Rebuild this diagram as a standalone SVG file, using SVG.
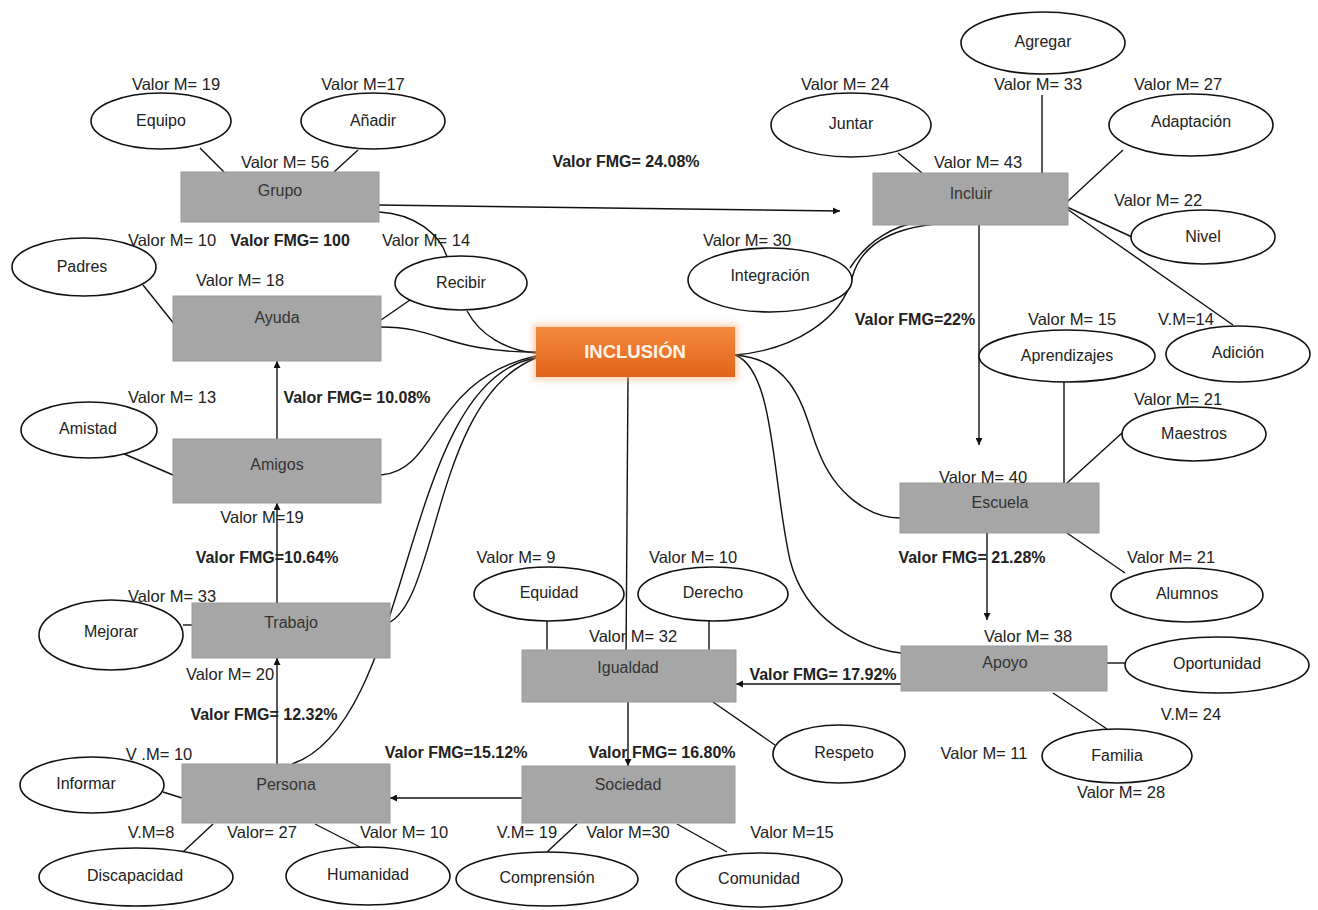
<svg xmlns="http://www.w3.org/2000/svg" width="1318" height="910" viewBox="0 0 1318 910">
<style>
text{font-family:"Liberation Sans",Arial,sans-serif;fill:#222;}
.l{font-size:16.5px;text-anchor:middle;}
.b{font-size:16px;font-weight:bold;text-anchor:middle;}
.n{font-size:16px;text-anchor:middle;fill:#333;}
.e{font-size:16px;text-anchor:middle;}
.box{fill:#a6a6a6;stroke:#9a9a9a;stroke-width:1;}
.ell{fill:#fff;stroke:#111;stroke-width:1.6;}
.c{fill:none;stroke:#111;stroke-width:1.4;}
.a{fill:none;stroke:#111;stroke-width:1.4;marker-end:url(#ah);}
</style>
<defs>
<marker id="ah" viewBox="0 0 10 10" refX="10" refY="5" markerWidth="7" markerHeight="7" markerUnits="userSpaceOnUse" orient="auto"><path d="M0,0 L10,5 L0,10 z" fill="#111"/></marker>
<linearGradient id="og" x1="0" y1="0" x2="0" y2="1"><stop offset="0" stop-color="#f58a3c"/><stop offset="1" stop-color="#e0641b"/></linearGradient>
<filter id="glow" x="-10%" y="-30%" width="120%" height="160%"><feGaussianBlur stdDeviation="3"/></filter>
</defs>
<rect width="1318" height="910" fill="#fff"/>

<g id="connectors">
<line class="c" x1="200" y1="148" x2="224" y2="172"/>
<line class="c" x1="358" y1="150" x2="334" y2="172"/>
<path class="a" d="M379,205 L840,211"/>
<path class="c" d="M379,212 C415,214 440,234 447,257"/>
<line class="c" x1="143" y1="285" x2="175" y2="325"/>
<line class="c" x1="381" y1="320" x2="410" y2="300"/>
<path class="c" d="M381,327 C440,327 445,352 536,352"/>
<path class="c" d="M467,311 C480,335 505,350 536,353"/>
<path class="c" d="M381,475 C440,470 430,380 536,356"/>
<line class="c" x1="122" y1="453" x2="173" y2="475"/>
<path class="a" d="M277,439 L277,361"/>
<path class="a" d="M277,603 L277,503"/>
<path class="a" d="M277,764 L277,658"/>
<line class="c" x1="183" y1="625" x2="192" y2="625"/>
<path class="c" d="M383,625 C440,612 430,400 536,358"/>
<path class="c" d="M292,764 C415,722 400,380 536,358"/>
<line class="c" x1="163" y1="792" x2="182" y2="798"/>
<line class="c" x1="183" y1="852" x2="213" y2="824"/>
<line class="c" x1="360" y1="847" x2="315" y2="824"/>
<path class="a" d="M522,798 L390,798"/>
<line class="c" x1="547" y1="852" x2="577" y2="824"/>
<line class="c" x1="727" y1="852" x2="677" y2="824"/>
<path class="a" d="M628,702 L628,766"/>
<line class="c" x1="628" y1="377" x2="626" y2="660"/>
<line class="c" x1="547" y1="621" x2="547" y2="650"/>
<line class="c" x1="709" y1="621" x2="709" y2="650"/>
<line class="c" x1="775" y1="745" x2="713" y2="702"/>
<path class="a" d="M901,684 L736,684"/>
<path class="c" d="M735,355 C775,370 772,480 790,560 C805,620 860,648 901,653"/>
<path class="c" d="M735,355 C800,360 805,420 818,450 C835,495 870,518 900,518"/>
<path class="c" d="M972,222 C900,222 862,240 852,278 C842,318 795,350 735,355"/>
<path class="c" d="M850,268 C868,240 895,225 920,222"/>
<line class="c" x1="898" y1="153" x2="922" y2="173"/>
<line class="c" x1="1042" y1="95" x2="1042" y2="173"/>
<line class="c" x1="1123" y1="150" x2="1067" y2="202"/>
<line class="c" x1="1067" y1="207" x2="1132" y2="237"/>
<line class="c" x1="1067" y1="209" x2="1233" y2="325"/>
<path class="a" d="M979,225 L979,445"/>
<line class="c" x1="1064" y1="382" x2="1064" y2="483"/>
<line class="c" x1="1122" y1="433" x2="1067" y2="483"/>
<line class="c" x1="1067" y1="533" x2="1125" y2="573"/>
<path class="a" d="M987,533 L987,620"/>
<line class="c" x1="1107" y1="663" x2="1125" y2="663"/>
<line class="c" x1="1053" y1="693" x2="1107" y2="729"/>
</g>

<g id="inclusion">
<rect x="533" y="324" width="205" height="56" fill="#f7b27e" opacity="0.6" filter="url(#glow)"/>
<rect x="536" y="327" width="199" height="50" fill="url(#og)"/>
<text x="635" y="358" style="font-size:18.5px;font-weight:bold;text-anchor:middle;fill:#fff3e8">INCLUSIÓN</text>
</g>

<g id="grupo"><rect class="box" x="181" y="172" width="198" height="50"/><text class="n" x="280" y="196">Grupo</text></g>
<g id="incluir"><rect class="box" x="873" y="173" width="195" height="52"/><text class="n" x="971" y="199">Incluir</text></g>
<g id="ayuda"><rect class="box" x="173" y="296" width="208" height="65"/><text class="n" x="277" y="323">Ayuda</text></g>
<g id="amigos"><rect class="box" x="173" y="439" width="208" height="64"/><text class="n" x="277" y="470">Amigos</text></g>
<g id="trabajo"><rect class="box" x="192" y="603" width="198" height="55"/><text class="n" x="291" y="628">Trabajo</text></g>
<g id="persona"><rect class="box" x="182" y="764" width="208" height="59"/><text class="n" x="286" y="790">Persona</text></g>
<g id="igualdad"><rect class="box" x="522" y="650" width="214" height="52"/><text class="n" x="628" y="673">Igualdad</text></g>
<g id="sociedad"><rect class="box" x="522" y="766" width="213" height="57"/><text class="n" x="628" y="790">Sociedad</text></g>
<g id="escuela"><rect class="box" x="900" y="483" width="199" height="50"/><text class="n" x="1000" y="508">Escuela</text></g>
<g id="apoyo"><rect class="box" x="901" y="646" width="206" height="45"/><text class="n" x="1005" y="668">Apoyo</text></g>

<g id="equipo"><ellipse class="ell" cx="161" cy="121" rx="70" ry="28"/><text class="e" x="161" y="126">Equipo</text></g>
<g id="anadir"><ellipse class="ell" cx="373" cy="121" rx="72" ry="28"/><text class="e" x="373" y="126">Añadir</text></g>
<g id="padres"><ellipse class="ell" cx="84" cy="267" rx="72" ry="29"/><text class="e" x="82" y="272">Padres</text></g>
<g id="recibir"><ellipse class="ell" cx="461" cy="283" rx="66" ry="27"/><text class="e" x="461" y="288">Recibir</text></g>
<g id="amistad"><ellipse class="ell" cx="89" cy="430" rx="68" ry="28"/><text class="e" x="88" y="434">Amistad</text></g>
<g id="mejorar"><ellipse class="ell" cx="111" cy="635" rx="72" ry="35"/><text class="e" x="111" y="637">Mejorar</text></g>
<g id="informar"><ellipse class="ell" cx="92" cy="785" rx="72" ry="28"/><text class="e" x="86" y="789">Informar</text></g>
<g id="discapacidad"><ellipse class="ell" cx="136" cy="877" rx="97" ry="29"/><text class="e" x="135" y="881">Discapacidad</text></g>
<g id="humanidad"><ellipse class="ell" cx="368" cy="876" rx="82" ry="29"/><text class="e" x="368" y="880">Humanidad</text></g>
<g id="comprension"><ellipse class="ell" cx="547" cy="879" rx="91" ry="27"/><text class="e" x="547" y="883">Comprensión</text></g>
<g id="comunidad"><ellipse class="ell" cx="759" cy="880" rx="83" ry="27"/><text class="e" x="759" y="884">Comunidad</text></g>
<g id="respeto"><ellipse class="ell" cx="839" cy="754" rx="66" ry="29"/><text class="e" x="844" y="758">Respeto</text></g>
<g id="equidad"><ellipse class="ell" cx="549" cy="594" rx="75" ry="27"/><text class="e" x="549" y="598">Equidad</text></g>
<g id="derecho"><ellipse class="ell" cx="713" cy="594" rx="75" ry="27"/><text class="e" x="713" y="598">Derecho</text></g>
<g id="familia"><ellipse class="ell" cx="1117" cy="756" rx="75" ry="27"/><text class="e" x="1117" y="761">Familia</text></g>
<g id="oportunidad"><ellipse class="ell" cx="1217" cy="665" rx="92" ry="28"/><text class="e" x="1217" y="669">Oportunidad</text></g>
<g id="alumnos"><ellipse class="ell" cx="1187" cy="595" rx="76" ry="27"/><text class="e" x="1187" y="599">Alumnos</text></g>
<g id="maestros"><ellipse class="ell" cx="1194" cy="434" rx="72" ry="27"/><text class="e" x="1194" y="439">Maestros</text></g>
<g id="adicion"><ellipse class="ell" cx="1238" cy="354" rx="72" ry="28"/><text class="e" x="1238" y="358">Adición</text></g>
<g id="aprendizajes"><ellipse class="ell" cx="1067" cy="356" rx="88" ry="26"/><text class="e" x="1067" y="361">Aprendizajes</text></g>
<g id="nivel"><ellipse class="ell" cx="1203" cy="237" rx="72" ry="27"/><text class="e" x="1203" y="242">Nivel</text></g>
<g id="adaptacion"><ellipse class="ell" cx="1191" cy="125" rx="82" ry="31"/><text class="e" x="1191" y="127">Adaptación</text></g>
<g id="agregar"><ellipse class="ell" cx="1043" cy="43" rx="82" ry="31"/><text class="e" x="1043" y="47">Agregar</text></g>
<g id="juntar"><ellipse class="ell" cx="851" cy="125" rx="80" ry="32"/><text class="e" x="851" y="129">Juntar</text></g>
<g id="integracion"><ellipse class="ell" cx="770" cy="280" rx="82" ry="32"/><text class="e" x="770" y="281">Integración</text></g>

<g id="labels">
<text class="l" x="176" y="90">Valor M= 19</text>
<text class="l" x="363" y="90">Valor M=17</text>
<text class="l" x="285" y="168">Valor M= 56</text>
<text class="l" x="172" y="246">Valor M= 10</text>
<text class="b" x="290" y="246">Valor FMG= 100</text>
<text class="l" x="426" y="246">Valor M= 14</text>
<text class="l" x="240" y="286">Valor M= 18</text>
<text class="l" x="172" y="403">Valor M= 13</text>
<text class="b" x="357" y="403">Valor FMG= 10.08%</text>
<text class="l" x="262" y="523">Valor M=19</text>
<text class="b" x="267" y="563">Valor FMG=10.64%</text>
<text class="l" x="172" y="602">Valor M= 33</text>
<text class="l" x="230" y="680">Valor M= 20</text>
<text class="b" x="264" y="720">Valor FMG= 12.32%</text>
<text class="l" x="159" y="760">V .M= 10</text>
<text class="l" x="151" y="838">V.M=8</text>
<text class="l" x="262" y="838">Valor= 27</text>
<text class="l" x="404" y="838">Valor M= 10</text>
<text class="b" x="456" y="758">Valor FMG=15.12%</text>
<text class="b" x="662" y="758">Valor FMG= 16.80%</text>
<text class="l" x="527" y="838">V.M= 19</text>
<text class="l" x="628" y="838">Valor M=30</text>
<text class="l" x="792" y="838">Valor M=15</text>
<text class="l" x="516" y="563">Valor M= 9</text>
<text class="l" x="693" y="563">Valor M= 10</text>
<text class="l" x="633" y="642">Valor M=   32</text>
<text class="b" x="823" y="680">Valor FMG= 17.92%</text>
<text class="l" x="984" y="759">Valor M= 11</text>
<text class="l" x="1191" y="720">V.M= 24</text>
<text class="l" x="1121" y="798">Valor M= 28</text>
<text class="l" x="1028" y="642">Valor M= 38</text>
<text class="b" x="972" y="563">Valor FMG=  21.28%</text>
<text class="l" x="1171" y="563">Valor M= 21</text>
<text class="l" x="983" y="483">Valor M= 40</text>
<text class="l" x="1178" y="405">Valor M= 21</text>
<text class="l" x="1072" y="325">Valor M= 15</text>
<text class="l" x="1186" y="325">V.M=14</text>
<text class="b" x="915" y="325">Valor FMG=22%</text>
<text class="l" x="747" y="246">Valor M=  30</text>
<text class="b" x="626" y="167">Valor FMG= 24.08%</text>
<text class="l" x="845" y="90">Valor M= 24</text>
<text class="l" x="1038" y="90">Valor M= 33</text>
<text class="l" x="1178" y="90">Valor M= 27</text>
<text class="l" x="978" y="168">Valor M= 43</text>
<text class="l" x="1158" y="206">Valor M= 22</text>
</g>
</svg>
